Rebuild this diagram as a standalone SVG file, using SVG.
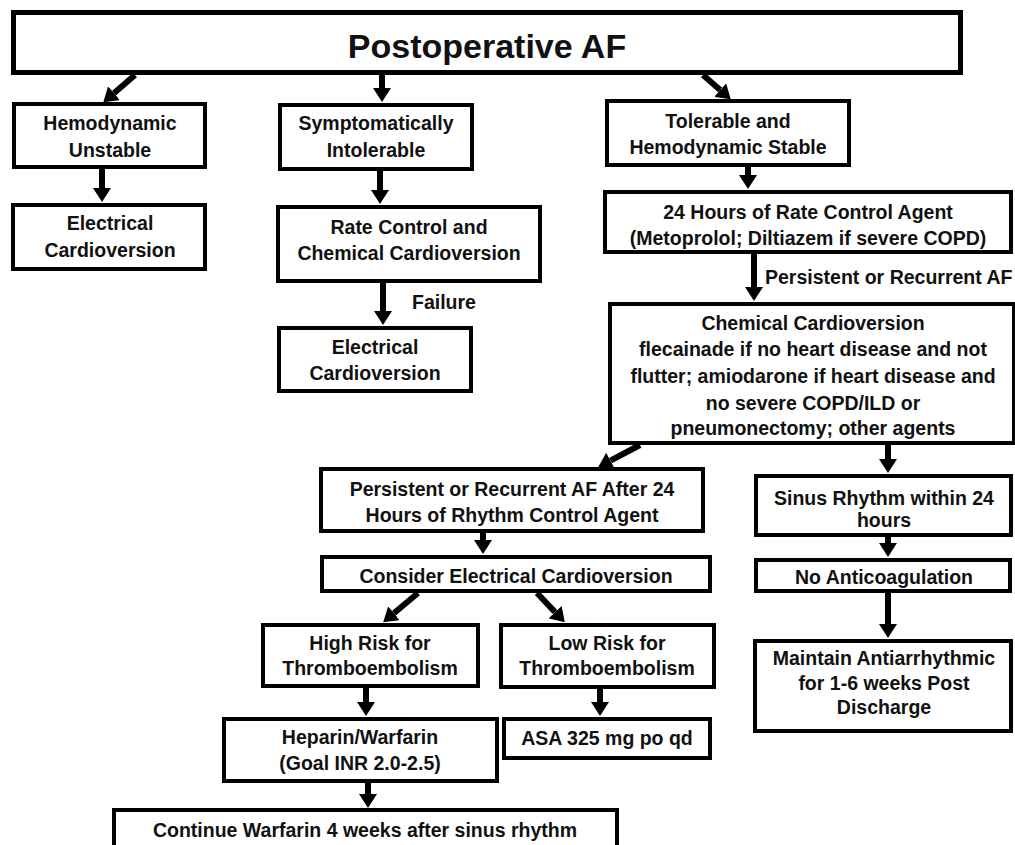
<svg xmlns="http://www.w3.org/2000/svg" width="1015" height="845" viewBox="0 0 1015 845">
<style>
rect{fill:#fff;stroke:#000;stroke-width:4}
#title rect{stroke-width:5}
text{font-family:"Liberation Sans",Arial,sans-serif;font-weight:bold;font-size:19.5px;fill:#111;text-anchor:middle}
#title text{font-size:34px}
.lbl{text-anchor:start}
#connectors line{stroke:#000;stroke-width:6;marker-end:url(#ah)}
</style>
<defs>
<marker id="ah" markerUnits="userSpaceOnUse" viewBox="0 0 14 18" refX="0" refY="9" markerWidth="14" markerHeight="18" orient="auto">
<path d="M0,0 L14,9 L0,18 z" fill="#000"/>
</marker>
</defs>
<rect x="0" y="0" width="1015" height="845" style="stroke:none"/>
<g id="title"><rect x="13.5" y="12.5" width="947" height="60"/><text x="487" y="58">Postoperative AF</text></g>
<g id="hemo"><rect x="14" y="104" width="191" height="63"/><text x="110" y="130">Hemodynamic</text><text x="110" y="157">Unstable</text></g>
<g id="elec1"><rect x="13" y="205" width="192" height="64"/><text x="110" y="230">Electrical</text><text x="110" y="257">Cardioversion</text></g>
<g id="sympt"><rect x="280" y="105" width="192" height="64"/><text x="376" y="130">Symptomatically</text><text x="376" y="157">Intolerable</text></g>
<g id="rate"><rect x="278" y="207" width="262" height="74"/><text x="409" y="234">Rate Control and</text><text x="409" y="260">Chemical Cardioversion</text></g>
<g id="elec2"><rect x="279" y="328" width="192" height="63"/><text x="375" y="354">Electrical</text><text x="375" y="380">Cardioversion</text></g>
<g id="toler"><rect x="607" y="101" width="242" height="64"/><text x="728" y="128">Tolerable and</text><text x="728" y="154">Hemodynamic Stable</text></g>
<g id="rate24"><rect x="605" y="192" width="406" height="60"/><text x="808" y="219">24 Hours of Rate Control Agent</text><text x="808" y="245">(Metoprolol; Diltiazem if severe COPD)</text></g>
<g id="chem"><rect x="610" y="304" width="404" height="139"/><text x="813" y="330">Chemical Cardioversion</text><text x="813" y="356">flecainade if no heart disease and not</text><text x="813" y="383">flutter; amiodarone if heart disease and</text><text x="813" y="410">no severe COPD/ILD or</text><text x="813" y="435">pneumonectomy; other agents</text></g>
<g id="persist"><rect x="321" y="469" width="382" height="62"/><text x="512" y="496">Persistent or Recurrent AF After 24</text><text x="512" y="522">Hours of Rhythm Control Agent</text></g>
<g id="consider"><rect x="322" y="557" width="388" height="34"/><text x="516" y="583">Consider Electrical Cardioversion</text></g>
<g id="high"><rect x="263" y="625" width="215" height="61"/><text x="370" y="650">High Risk for</text><text x="370" y="675">Thromboembolism</text></g>
<g id="low"><rect x="501" y="625" width="213" height="62"/><text x="607" y="650">Low Risk for</text><text x="607" y="675">Thromboembolism</text></g>
<g id="heparin"><rect x="224" y="719" width="273" height="62"/><text x="360" y="744">Heparin/Warfarin</text><text x="360" y="770">(Goal INR 2.0-2.5)</text></g>
<g id="asa"><rect x="504" y="719" width="206" height="39"/><text x="607" y="745">ASA 325 mg po qd</text></g>
<g id="continue"><rect x="114" y="810" width="503" height="45"/><text x="365" y="837">Continue Warfarin 4 weeks after sinus rhythm</text></g>
<g id="sinus"><rect x="756" y="476" width="255" height="59"/><text x="884" y="505">Sinus Rhythm within 24</text><text x="884" y="527">hours</text></g>
<g id="noanti"><rect x="756" y="560" width="254" height="31"/><text x="884" y="584">No Anticoagulation</text></g>
<g id="maintain"><rect x="755" y="641" width="256" height="90"/><text x="884" y="665">Maintain Antiarrhythmic</text><text x="884" y="690">for 1-6 weeks Post</text><text x="884" y="714">Discharge</text></g>
<g id="connectors">
<line x1="135" y1="75" x2="113.9" y2="93.2"/>
<line x1="382" y1="75" x2="382" y2="88"/>
<line x1="703" y1="75" x2="720.2" y2="90.1"/>
<line x1="102" y1="169" x2="102" y2="188"/>
<line x1="380" y1="171" x2="380" y2="190"/>
<line x1="383" y1="283" x2="383" y2="311"/>
<line x1="748" y1="167" x2="748" y2="175"/>
<line x1="754" y1="254" x2="754" y2="287"/>
<line x1="640" y1="445" x2="610.5" y2="460.7"/>
<line x1="888" y1="445" x2="888" y2="459"/>
<line x1="483" y1="533" x2="483" y2="540"/>
<line x1="418" y1="593" x2="393.9" y2="613.3"/>
<line x1="537" y1="593" x2="555.1" y2="612.1"/>
<line x1="366" y1="688" x2="366" y2="702"/>
<line x1="600" y1="689" x2="600" y2="702"/>
<line x1="368" y1="783" x2="368" y2="794"/>
<line x1="888" y1="537" x2="888" y2="543"/>
<line x1="888" y1="593" x2="888" y2="624"/>
<text class="lbl" x="412" y="309">Failure</text>
<text class="lbl" x="765" y="284">Persistent or Recurrent AF</text>
</g>
</svg>
